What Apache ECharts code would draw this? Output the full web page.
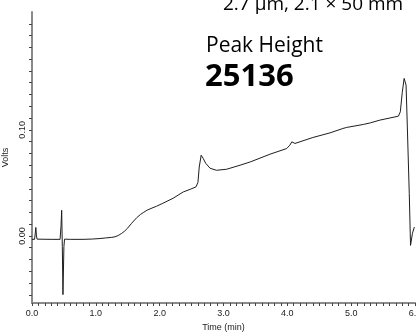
<!DOCTYPE html>
<html>
<head>
<meta charset="utf-8">
<script src="https://cdn.jsdelivr.net/npm/echarts@6/dist/echarts.min.js"></script>
<style>
  html, body { margin: 0; padding: 0; background: #fff; }
  #chart { width: 416px; height: 332px; }
</style>
</head>
<body>
<div id="chart"></div>
<script>
// Chromatogram trace: retention time (min) and detector response (V)
const timeMin = [
  0.00, 0.04, 0.05, 0.06, 0.07, 0.08, 0.30, 0.44, 0.455, 0.465, 0.475, 0.485, 0.50, 0.51,
  0.60, 0.80, 0.95, 1.05, 1.15, 1.25, 1.30, 1.35, 1.40, 1.45, 1.50, 1.56, 1.64, 1.70,
  1.75, 1.80, 1.88, 1.95, 2.05, 2.21, 2.37, 2.48, 2.57, 2.60, 2.62, 2.65, 2.68, 2.72,
  2.79, 2.89, 3.05, 3.26, 3.42, 3.73, 3.99, 4.04, 4.07, 4.12, 4.40, 4.67, 4.87, 4.93,
  5.19, 5.30, 5.45, 5.74, 5.77, 5.80, 5.83, 5.86, 5.88, 5.91, 5.93, 5.96, 5.99
];
const volts = [
  -0.0032, -0.0032, 0.0020, 0.0080, 0.0000, -0.0030, -0.0032, -0.0032, 0.0100, 0.0242, -0.0100, -0.0553, -0.0100, -0.0030,
  -0.0032, -0.0032, -0.0029, -0.0025, -0.0019, -0.0013, -0.0008, 0.0004, 0.0022, 0.0045, 0.0075, 0.0119, 0.0172, 0.0203,
  0.0223, 0.0242, 0.0263, 0.0280, 0.0308, 0.0355, 0.0415, 0.0440, 0.0463, 0.0506, 0.0650, 0.0761, 0.0733, 0.0686,
  0.0638, 0.0619, 0.0629, 0.0667, 0.0698, 0.0771, 0.0824, 0.0856, 0.0887, 0.0872, 0.0928, 0.0972, 0.1013, 0.1023,
  0.1051, 0.1066, 0.1092, 0.1129, 0.1170, 0.1350, 0.1485, 0.1422, 0.1028, 0.0402, -0.0089, 0.0025, 0.0084
];

// Axis labels
const xTickLabels = ['0.0', '1.0', '2.0', '3.0', '4.0', '5.0', '6.0'];
const yTickLabels = ['0.00', '0.10'];

// Annotation text
const columnText = '2.7 µm, 2.1 × 50 mm';
const peakTitle = 'Peak Height';
const peakValue = '25136';

// Minor tick positions: x every 0.1 min, y every 0.1/9 V
const xMinor = [];
for (let i = 0; i <= 60; i++) xMinor.push(i / 10);
const yMinor = [];
for (let k = -5; k <= 19; k++) yMinor.push(k * 0.1 / 9);

const chart = echarts.init(document.getElementById('chart'), null, { renderer: 'canvas' });
const axisFont = 'Liberation Sans, Arial, sans-serif';

chart.setOption({
  animation: false,
  backgroundColor: '#fff',
  grid: { left: 32, right: 1, top: 12, bottom: 29, outerBoundsMode: 'none' },
  xAxis: {
    type: 'value', min: 0, max: 6,
    name: 'Time (min)', nameLocation: 'middle', nameGap: 17,
    nameTextStyle: { fontFamily: axisFont, fontSize: 9, color: '#222' },
    axisLine: { onZero: false, lineStyle: { color: '#8a8a8a', width: 2 } },
    axisTick: { customValues: xMinor, length: 3, lineStyle: { color: '#444', width: 1 } },
    axisLabel: {
      customValues: xTickLabels.map(Number), margin: 6,
      fontFamily: axisFont, fontSize: 9, color: '#222',
      formatter: v => v.toFixed(1)
    },
    splitLine: { show: false }
  },
  yAxis: {
    type: 'value', min: -0.0632, max: 0.21111,
    name: 'Volts', nameLocation: 'middle', nameGap: 17, nameRotate: 90,
    nameTextStyle: { fontFamily: axisFont, fontSize: 9, color: '#222' },
    axisLine: { onZero: false, lineStyle: { color: '#8a8a8a', width: 2 } },
    axisTick: { customValues: yMinor, length: 3, lineStyle: { color: '#444', width: 1 } },
    axisLabel: {
      customValues: yTickLabels.map(Number), rotate: 90, margin: 5,
      fontFamily: axisFont, fontSize: 9, color: '#222',
      formatter: v => v.toFixed(2)
    },
    splitLine: { show: false }
  },
  series: [{
    type: 'line',
    data: timeMin.map((t, i) => [t, volts[i]]),
    showSymbol: false,
    lineStyle: { color: '#1e1e1e', width: 1 },
    clip: true
  }],
  graphic: [
    { type: 'text', left: 223, top: -5,
      style: { text: columnText, fontFamily: 'Open Sans', fontSize: 19, fill: '#000' } },
    { type: 'text', left: 206, top: 36,
      style: { text: peakTitle, fontFamily: 'Open Sans', fontSize: 21, fill: '#000' } },
    { type: 'text', left: 205, top: 62,
      style: { text: peakValue, fontFamily: 'Open Sans', fontSize: 31, fontWeight: 'bold', fill: '#000' } }
  ]
});
</script>
</body>
</html>
